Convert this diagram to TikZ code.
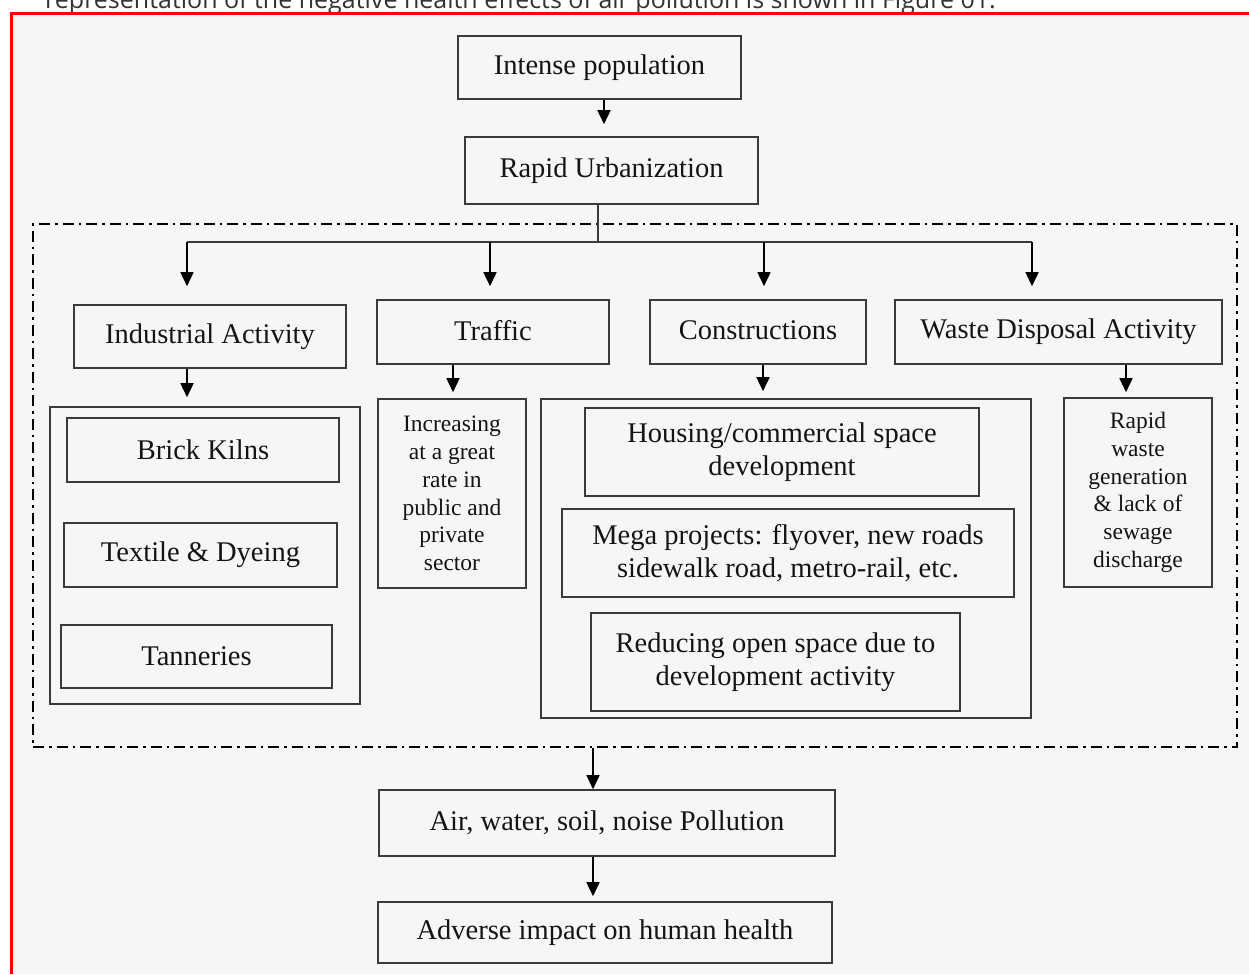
\documentclass[tikz,border=0pt]{standalone}
\usepackage{fontspec}
\setmainfont{Liberation Serif}
\newfontfamily\topfont{Open Sans}
\usetikzlibrary{arrows.meta}
\definecolor{boxc}{HTML}{3A3A3A}
\definecolor{txtc}{HTML}{141414}
\definecolor{bgc}{HTML}{F6F6F6}
\definecolor{topc}{HTML}{333333}
\newcommand\bigf{\fontsize{28.5}{33}\selectfont}
\newcommand\smallf{\fontsize{23.5}{27.7}\selectfont}
\begin{document}
\begin{tikzpicture}[x=1pt,y=-1pt,
  bx/.style={draw=boxc, line width=1.6pt, inner sep=0pt, align=center, font=\bigf, text=txtc},
  sbx/.style={bx, font=\smallf},
  grp/.style={draw=boxc, line width=1.6pt, inner sep=0pt},
  arr/.style={-{Triangle[width=13pt,length=14pt]}, line width=1.6pt, draw=black},
  ln/.style={line width=1.6pt, draw=boxc},
  zonestyle/.style={draw=black, line width=2.2pt, dash pattern=on 11pt off 5pt on 2.5pt off 5pt, inner sep=0pt}]
\useasboundingbox (0,0) rectangle (1249,974);
\fill[white] (0,0) rectangle (1249,974);
\fill[bgc] (11,13.5) rectangle (1249,974);
\begin{scope}
\clip (0,0) rectangle (1249,12);
\node[anchor=base west, inner sep=0pt, font=\topfont\fontsize{25}{29}\selectfont, text=topc] (toptext) at (45,8.5) {representation of the negative health effects of air pollution is shown in Figure 01.};
\end{scope}
\draw[red, line width=3pt] (11,974) -- (11,13.5) -- (1249,13.5);

% top chain
\node[bx, minimum width=283pt, minimum height=63pt] (ip) at (599.5,67.5) {Intense population};
\node[bx, minimum width=293pt, minimum height=67pt] (ru) at (611.5,170.5) {Rapid Urbanization};

% dash-dot zone
\node[zonestyle, minimum width=1204pt, minimum height=523pt] (zone) at (635,485.5) {};

% category boxes
\node[bx, minimum width=272pt, minimum height=63pt] (ind) at (210,336.5) {Industrial Activity};
\node[bx, minimum width=232pt, minimum height=64pt] (tr) at (493,332) {\raisebox{3pt}{Traffic}};
\node[bx, minimum width=216pt, minimum height=64pt] (con) at (758,332) {\raisebox{3pt}{Constructions}};
\node[bx, minimum width=327pt, minimum height=64pt] (wd) at (1058.5,332) {\raisebox{2pt}{Waste Disposal Activity}};

% industrial group
\node[grp, minimum width=310pt, minimum height=297pt] (indg) at (205,555.5) {};
\node[bx, minimum width=272pt, minimum height=64pt] (bk) at (203,450) {Brick Kilns};
\node[bx, minimum width=273pt, minimum height=64pt] (td) at (200.5,555) {Textile \& Dyeing};
\node[bx, minimum width=271pt, minimum height=63pt] (tan) at (196.5,656.5) {Tanneries};

% traffic detail
\node[sbx, minimum width=148pt, minimum height=189pt] (trd) at (452,493.5) {Increasing\\at a great\\rate in\\public and\\private\\sector};

% constructions group
\node[grp, minimum width=490pt, minimum height=319pt] (cong) at (786,558.5) {};
\node[bx, minimum width=394pt, minimum height=88pt] (hc) at (782,452) {Housing/commercial space\\development};
\node[bx, minimum width=452pt, minimum height=88pt] (mp) at (788,553) {Mega projects: flyover, new roads\\sidewalk road, metro-rail, etc.};
\node[bx, minimum width=369pt, minimum height=98pt] (ro) at (775.5,662) {Reducing open space due to\\development activity};

% waste detail
\node[sbx, minimum width=148pt, minimum height=189pt] (wdd) at (1138,492.5) {Rapid\\waste\\generation\\\& lack of\\sewage\\discharge};

% outcomes
\node[bx, minimum width=456pt, minimum height=66pt] (air) at (607,823) {Air, water, soil, noise Pollution};
\node[bx, minimum width=454pt, minimum height=61pt] (adv) at (605,932.5) {Adverse impact on human health};

% connectors
\draw[arr, shorten >=12pt] ([xshift=4.5pt]ip.south) -- ([xshift=4.5pt]ip.south |- ru.north);

\coordinate (bus) at (598,242);
\coordinate (b1) at (187,242);
\coordinate (b2) at (490,242);
\coordinate (b3) at (764,242);
\coordinate (b4) at (1032,242);
\draw[ln] (ru.south -| bus) -- (bus);
\draw[ln] (b1) -- (b4);
\draw[arr, shorten >=18pt] (b1) -- (b1 |- ind.north);
\draw[arr, shorten >=13pt] (b2) -- (b2 |- tr.north);
\draw[arr, shorten >=13pt] (b3) -- (b3 |- con.north);
\draw[arr, shorten >=13pt] (b4) -- (b4 |- wd.north);

\draw[arr, shorten >=9pt] (b1 |- ind.south) -- (b1 |- indg.north);
\coordinate (t1) at (453,0);
\coordinate (c1) at (763,0);
\coordinate (w1) at (1126,0);
\coordinate (a1) at (593,0);
\draw[arr, shorten >=6pt] (t1 |- tr.south) -- (t1 |- trd.north);
\draw[arr, shorten >=7pt] (c1 |- con.south) -- (c1 |- cong.north);
\draw[arr, shorten >=5pt] (w1 |- wd.south) -- (w1 |- wdd.north);

\draw[arr] (a1 |- zone.south) -- (a1 |- air.north);
\draw[arr, shorten >=5pt] (a1 |- air.south) -- (a1 |- adv.north);
\end{tikzpicture}
\end{document}
